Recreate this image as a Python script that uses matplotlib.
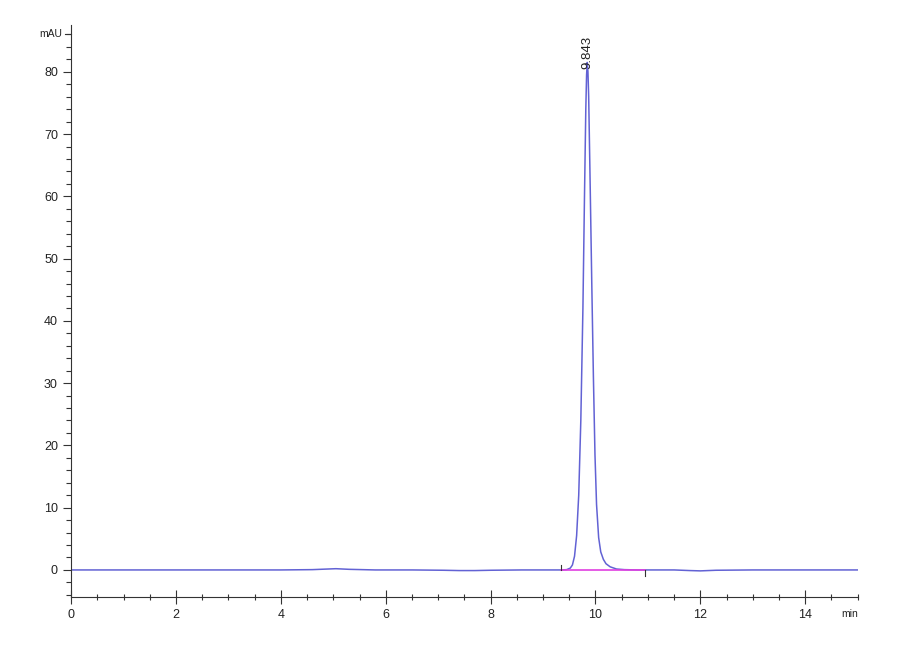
import matplotlib
matplotlib.use("Agg")
import matplotlib.pyplot as plt
from matplotlib.ticker import MultipleLocator

plt.rcParams['font.family'] = ['Liberation Sans', 'DejaVu Sans']

# chromatogram trace (min, mAU)
time = [0.0, 1.0, 2.0, 3.0, 4.0, 4.6, 4.9, 5.05, 5.3, 5.8, 6.5, 7.1, 7.4, 7.7, 8.0,
        8.6, 9.0, 9.35, 9.45, 9.52, 9.56, 9.60, 9.64, 9.68, 9.72, 9.76, 9.79,
        9.815, 9.83, 9.843, 9.856, 9.87, 9.90, 9.93, 9.96, 9.99, 10.02, 10.06,
        10.10, 10.15, 10.20, 10.28, 10.40, 10.55, 10.8, 11.0, 11.5, 11.8, 12.0,
        12.3, 13.0, 14.0, 15.0]
signal = [0.0, 0.0, 0.0, 0.0, 0.0, 0.05, 0.15, 0.2, 0.1, 0.0, 0.0, -0.05, -0.1,
          -0.1, -0.05, 0.0, 0.0, 0.0, 0.05, 0.3, 0.8, 2.2, 5.5, 12.0, 24.0, 42.0,
          60.0, 74.0, 79.5, 81.5, 80.0, 76.0, 61.0, 45.5, 31.0, 18.5, 10.5, 5.2,
          2.9, 1.7, 1.0, 0.5, 0.15, 0.05, 0.0, 0.0, 0.0, -0.1, -0.15, -0.05, 0.0,
          0.0, 0.0]

peak_rt = 9.843
peak_h = 81.5
base_start = 9.35
base_end = 10.95

fig = plt.figure(figsize=(9, 6.6), dpi=100)
ax = fig.add_axes([0.079, 0.0955, 0.874, 0.8665])

ax.plot(time, signal, color='#6262d4', lw=1.1)
ax.plot([base_start, base_end], [0, 0], color='#e040e0', lw=1.2)
# integration start / end marks
ax.plot([base_start, base_start], [0, 0.8], color='#333333', lw=0.8)
ax.plot([base_end, base_end], [0, -0.9], color='#333333', lw=0.8)

ax.text(peak_rt, peak_h - 1.0, f"{peak_rt:.3f}", rotation=90, ha='center',
        va='bottom', fontsize=9.5, color='#222222')

ax.set_xlim(0, 15)
ax.set_ylim(-4.34, 87.5)
ax.xaxis.set_major_locator(MultipleLocator(2))
ax.xaxis.set_minor_locator(MultipleLocator(0.5))
ax.yaxis.set_major_locator(MultipleLocator(10))
ax.yaxis.set_minor_locator(MultipleLocator(2))
ax.set_yticks([0, 10, 20, 30, 40, 50, 60, 70, 80])

for s in ['top', 'right']:
    ax.spines[s].set_visible(False)
for s in ['left', 'bottom']:
    ax.spines[s].set_color('#333333')
    ax.spines[s].set_linewidth(0.8)

ax.tick_params(axis='both', which='major', length=6, width=0.8, labelsize=9,
               colors='#333333', labelcolor='#222222')
ax.tick_params(axis='both', which='minor', length=3.5, width=0.8, colors='#333333')
ax.tick_params(axis='x', which='major', direction='inout', length=10)
ax.tick_params(axis='x', which='minor', direction='inout', length=5)

ax.text(-0.012, 86, "mAU", transform=ax.get_yaxis_transform(), ha='right',
        va='center', fontsize=7.5, color='#222222')
ax.plot([-0.008, 0], [86, 86], transform=ax.get_yaxis_transform(),
        color='#333333', lw=0.8, clip_on=False)
ax.text(14.85, -0.03, "min", transform=ax.get_xaxis_transform(), ha='center',
        va='center', fontsize=7.5, color='#222222')

fig.savefig("out.png", dpi=100)
